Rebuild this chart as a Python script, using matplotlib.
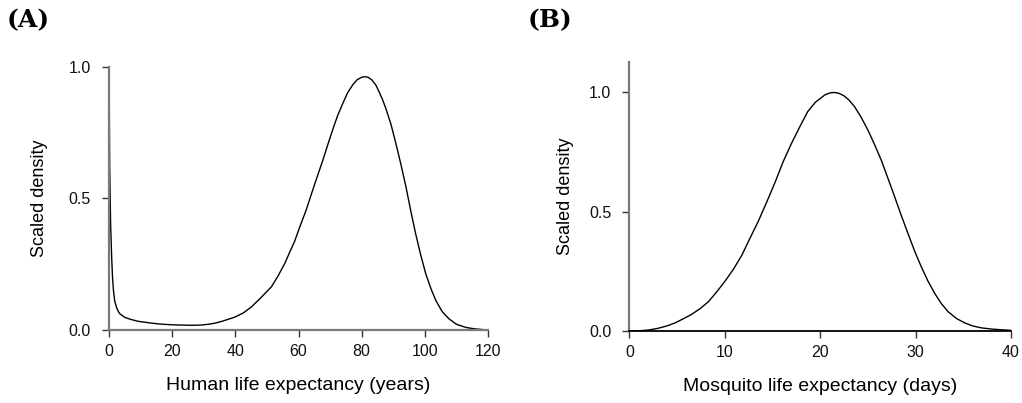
import matplotlib.pyplot as plt

plt.rcParams['font.family'] = ['Liberation Sans', 'DejaVu Sans']

# Human life expectancy (years) vs scaled density
human_age = [0, 0.2, 0.5, 0.85, 1.1, 1.4, 1.8, 2.4, 3.0, 3.5, 5, 7, 9.3, 13, 16, 19.8, 23,
             26, 29, 31.5, 33.5, 36, 39.8, 42.5, 45, 48, 51.4, 53.5, 55.6, 57.3, 58.7,
             60.5, 62.4, 65, 67.7, 69.3, 70.8, 72.4, 74, 75.5, 77.1, 78.5, 80, 81, 82,
             83.2, 84.5, 85.5, 86.6, 87.7, 88.5, 89.3, 90.8, 92.4, 94, 95.5, 97.1, 98.7,
             100.3, 102, 103.5, 105.5, 107.7, 110, 113, 115.5, 118.2, 120]
human_density = [1.0, 0.62, 0.40, 0.27, 0.2, 0.15, 0.11, 0.085, 0.069, 0.061, 0.048, 0.040,
                 0.033, 0.027, 0.023, 0.020, 0.019, 0.018, 0.019, 0.022, 0.026, 0.034,
                 0.049, 0.065, 0.087, 0.122, 0.164, 0.205, 0.252, 0.298, 0.335, 0.395,
                 0.455, 0.55, 0.645, 0.705, 0.76, 0.815, 0.86, 0.9, 0.93, 0.95, 0.96, 0.962,
                 0.96, 0.95, 0.93, 0.905, 0.875, 0.84, 0.81, 0.78, 0.71, 0.63, 0.545,
                 0.455, 0.365, 0.285, 0.213, 0.155, 0.112, 0.07, 0.042, 0.022, 0.010,
                 0.005, 0.002, 0.0]

# Mosquito life expectancy (days) vs scaled density
mosq_age = [0, 1, 2, 3, 4, 4.8, 5.6, 6.5, 7.4, 8.3, 9.1, 10.0, 10.9, 11.8, 12.6, 13.5,
            14.4, 15.3, 16.1, 17.0, 17.9, 18.7, 19.5, 20.5, 21.0, 21.5, 22.0, 22.5, 23.0,
            23.6, 24.3, 25.0, 25.7, 26.4, 27.1, 27.8, 28.5, 29.2, 29.9, 30.6, 31.3, 32.0,
            32.7, 33.4, 34.3, 35.2, 36.0, 36.9, 38.0, 39.0, 40]
mosq_density = [0.0, 0.001, 0.004, 0.011, 0.022, 0.034, 0.05, 0.069, 0.093, 0.123, 0.161,
                0.207, 0.258, 0.318, 0.385, 0.458, 0.54, 0.625, 0.707, 0.786, 0.858,
                0.919, 0.958, 0.989, 0.997, 0.999, 0.995, 0.985, 0.968, 0.94, 0.895,
                0.842, 0.781, 0.716, 0.64, 0.563, 0.484, 0.409, 0.335, 0.269, 0.209,
                0.158, 0.115, 0.081, 0.052, 0.033, 0.021, 0.013, 0.008, 0.005, 0.003]

fig = plt.figure(figsize=(10.22, 4.03), dpi=100)
ax_a = fig.add_axes([0.1067, 0.181, 0.3708, 0.6535])
ax_b = fig.add_axes([0.6158, 0.1787, 0.3734, 0.6683])

spine_col = '#7a7a7a'
tick_col = '#333333'


def style_axes(ax):
    for side in ('top', 'right'):
        ax.spines[side].set_visible(False)
    for side in ('left', 'bottom'):
        ax.spines[side].set_color(spine_col)
        ax.spines[side].set_linewidth(1.6)
    ax.tick_params(direction='out', length=5, width=1, color=tick_col,
                   labelsize=11.5, labelcolor='#111111', pad=5)
    ax.tick_params(axis='y', pad=8)


ax_a.plot(human_age, human_density, color='black', lw=1.0, clip_on=False)
ax_a.set_xlim(0, 120)
ax_a.set_ylim(0, 1.0)
ax_a.set_xticks([0, 20, 40, 60, 80, 100, 120])
ax_a.set_yticks([0.0, 0.5, 1.0])
ax_a.set_yticklabels(['0.0', '0.5', '1.0'])
style_axes(ax_a)
ax_a.set_xlabel('Human life expectancy (years)', fontsize=14, labelpad=13)
ax_a.set_ylabel('Scaled density', fontsize=13, labelpad=15)

ax_b.plot(mosq_age, mosq_density, color='black', lw=1.0)
ax_b.set_xlim(0, 40)
ax_b.set_ylim(0, 1.128)
ax_b.set_xticks([0, 10, 20, 30, 40])
ax_b.set_yticks([0.0, 0.5, 1.0])
ax_b.set_yticklabels(['0.0', '0.5', '1.0'])
style_axes(ax_b)
ax_b.spines['bottom'].set_color('black')
ax_b.spines['bottom'].set_linewidth(1.3)
ax_b.set_xlabel('Mosquito life expectancy (days)', fontsize=14, labelpad=13)
ax_b.set_ylabel('Scaled density', fontsize=13, labelpad=11)

fig.text(0.006, 0.949, '(A)', family='DejaVu Serif', fontweight='bold',
         fontsize=18, va='center', ha='left')
fig.text(0.516, 0.949, '(B)', family='DejaVu Serif', fontweight='bold',
         fontsize=18, va='center', ha='left')

fig.savefig('out.png', dpi=100)
